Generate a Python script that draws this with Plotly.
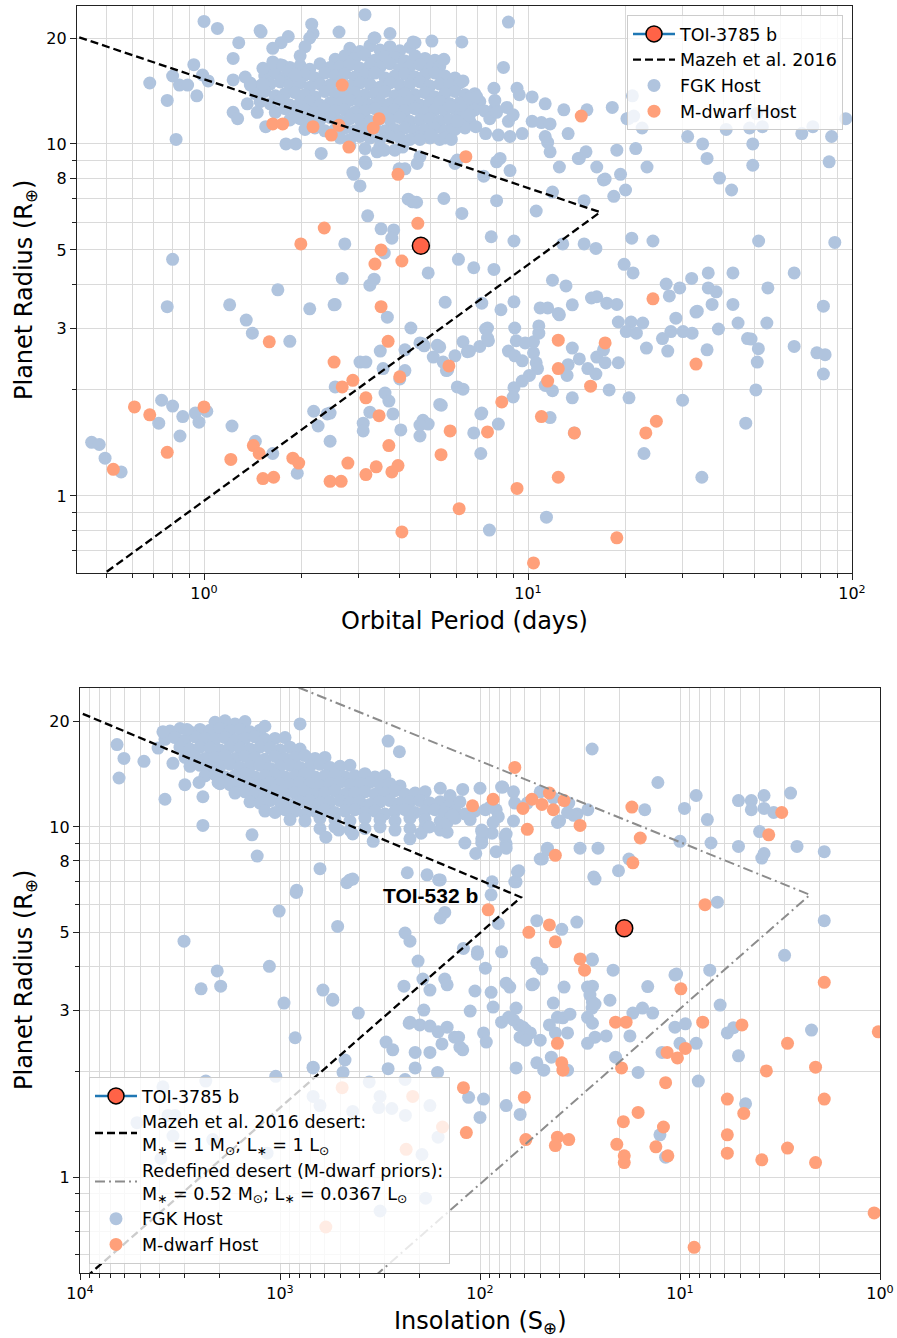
import plotly.graph_objects as go

# ---------------- DATA ----------------
# Top panel: (orbital period [days], radius [R_earth])
toi_period = [4.67]
toi_radius = [5.14]
toi_insol = [19.0]

top_fgk_core = [
    (2.82,18.7),(3.03,18.3),(3.25,19.0),(3.49,18.5),(3.75,18.9),(4.02,18.4),(4.32,18.8),
    (2.54,17.4),(2.72,17.8),(2.92,17.5),(3.14,17.9),(3.37,17.3),(3.62,17.7),(3.88,17.6),(4.17,17.2),(4.48,17.8),(4.81,17.5),(5.16,17.3),
    (1.60,16.4),(1.72,16.8),(1.84,16.5),(1.98,16.7),(2.12,16.3),(2.28,16.9),(2.45,16.5),(2.63,16.6),(2.82,16.8),(3.03,16.4),(3.25,16.7),(3.49,16.5),(3.75,16.9),(4.02,16.3),(4.32,16.6),(4.64,16.8),(4.98,16.4),(5.34,16.6),
    (1.54,15.6),(1.66,15.9),(1.78,15.5),(1.91,15.8),(2.05,15.7),(2.20,15.4),(2.36,15.9),(2.54,15.6),(2.72,15.8),(2.92,15.5),(3.14,15.7),(3.37,15.9),(3.62,15.4),(3.88,15.6),(4.17,15.8),(4.48,15.5),(4.81,15.7),(5.16,15.9),(5.54,15.6),(5.95,15.4),
    (1.39,14.9),(1.49,14.6),(1.60,14.8),(1.72,15.0),(1.84,14.7),(1.98,14.9),(2.12,14.5),(2.28,14.8),(2.45,14.7),(2.63,15.0),(2.82,14.6),(3.03,14.9),(3.25,14.8),(3.49,14.5),(3.75,14.9),(4.02,14.7),(4.32,14.8),(4.64,15.0),(4.98,14.6),(5.34,14.8),(5.74,14.7),(6.16,14.9),
    (1.44,13.9),(1.54,14.1),(1.66,13.7),(1.78,13.9),(1.91,14.0),(2.05,13.8),(2.20,13.6),(2.36,14.1),(2.54,13.9),(2.72,13.7),(2.92,14.0),(3.14,13.8),(3.37,13.9),(3.62,14.1),(3.88,13.7),(4.17,13.9),(4.48,13.8),(4.81,14.0),(5.16,13.6),(5.54,13.9),(5.95,14.1),(6.39,13.8),(6.85,13.9),
    (1.49,13.2),(1.60,13.0),(1.72,13.3),(1.84,12.9),(1.98,13.1),(2.12,13.2),(2.28,12.9),(2.45,13.1),(2.63,13.0),(2.82,13.3),(3.03,13.1),(3.25,12.9),(3.49,13.2),(3.75,13.0),(4.02,13.1),(4.32,13.3),(4.64,12.9),(4.98,13.1),(5.34,13.2),(5.74,13.0),(6.16,13.1),(6.61,12.9),(7.10,13.2),
    (1.66,12.3),(1.78,12.6),(1.91,12.4),(2.05,12.5),(2.20,12.3),(2.36,12.6),(2.54,12.4),(2.72,12.5),(2.92,12.3),(3.14,12.4),(3.37,12.6),(3.62,12.3),(3.88,12.5),(4.17,12.4),(4.48,12.6),(4.81,12.3),(5.16,12.5),(5.54,12.4),(5.95,12.6),(6.39,12.3),(6.85,12.5),(7.36,12.4),(7.90,12.6),
    (1.84,11.7),(1.98,11.8),(2.12,11.6),(2.28,11.7),(2.45,11.9),(2.63,11.6),(2.82,11.8),(3.03,11.7),(3.25,11.6),(3.49,11.8),(3.75,11.7),(4.02,11.9),(4.32,11.6),(4.64,11.7),(4.98,11.8),(5.34,11.6),(5.74,11.7),(6.16,11.9),(6.61,11.6),(7.62,11.8),
    (2.05,11.0),(2.20,11.1),(2.36,10.9),(2.54,11.0),(2.72,11.1),(2.92,10.9),(3.14,11.0),(3.37,11.1),(3.62,10.9),(3.88,11.0),(4.17,11.1),(4.48,10.9),(4.81,11.0),(5.16,11.1),(5.54,10.9),(5.95,11.0),(6.39,11.1),
    (2.63,10.4),(2.82,10.3),(3.03,10.5),(3.25,10.4),(3.49,10.3),(3.75,10.5),(4.02,10.4),(4.32,10.3),(4.64,10.5),(4.98,10.4),(5.34,10.3),
    (2.82,9.9),(3.14,9.7),(3.49,9.8),(3.88,9.6),
]

top_fgk_scatter = [
    (1.0,22.3),(1.10,21.3),(1.50,20.8),(1.82,20.2),(2.15,21.9),(2.17,20.6),(2.61,20.8),(3.14,23.3),(3.75,20.6),(3.35,20.0),
    (4.48,19.4),(5.05,19.6),(1.28,19.4),(1.23,17.5),(0.93,16.8),(0.68,14.9),(0.80,15.6),(0.84,14.7),(0.89,14.7),(0.99,15.7),
    (1.03,15.1),(0.95,13.7),(0.77,13.3),(0.82,10.3),(1.23,12.3),(1.27,11.8),(1.55,11.2),(1.79,10.0),(1.92,10.0),(2.30,9.4),
    (3.16,8.8),(2.90,8.2),(3.03,7.6),(1.49,21.0),(1.73,19.4),(1.63,18.7),(2.12,20.0),(2.05,18.9),(1.98,17.8),(3.37,20.0),
    (4.42,19.5),(6.25,19.5),(8.7,22.2),(8.4,16.5),(5.5,17.4),(6.3,15.1),(7.85,14.4),(9.25,14.4),(9.4,13.8),(10.3,13.6),
    (11.3,13.0),(12.9,12.5),(15.2,12.5),(18.2,12.7),(20.2,11.8),(1.52,16.4),(1.63,17.1),(1.75,16.7),(1.83,16.2),(1.91,15.7),
    (1.34,15.5),(1.23,15.2),(1.39,14.7),(1.52,14.8),(1.36,13.0),(1.46,12.3),(1.95,11.9),(2.88,8.3),(3.14,8.9),(3.42,9.5),
    (3.6,9.6),(4.0,8.5),(4.17,8.5),(4.64,9.2),(6.05,9.0),(6.6,13.5),(6.95,13.6),(6.6,12.1),(6.9,11.2),(7.4,10.7),
    (7.9,13.3),(8.0,12.3),(8.6,12.7),(8.1,10.6),(8.8,10.5),(9.6,10.7),(8.7,11.6),(9.0,12.1),(10.3,11.6),(11.0,11.5),
    (11.7,11.4),(11.3,10.5),(11.5,10.1),(11.7,9.5),(13.3,10.7),(14.3,9.1),(15.1,9.5),(16.3,8.6),(18.8,9.6),(12.5,8.6),
    (8.0,8.9),(8.2,9.1),(8.8,8.4),(5.75,12.8),(5.85,11.0),(6.05,11.6),(5.55,10.4),(5.8,10.3),(4.64,10.3),(5.0,10.6),
    (4.1,9.8),(4.55,8.8),(21.0,13.7),(21.2,12.0),(20.4,11.8),(22.5,11.1),(31.1,10.5),(34.6,10.0),(40.9,11.0),(48.3,11.1),
    (52.9,11.2),(49.4,10.0),(50.8,12.2),(59.9,12.2),(70.0,10.7),(75.7,11.2),(86.5,10.5),(95.6,11.8),(85.0,8.9),(49.4,8.7),
    (35.7,9.1),(39.0,8.0),(42.5,7.4),(21.5,9.7),(23.3,8.6),(14.4,9.1),(17.1,7.9),(19.3,8.2),(20.0,7.4),(18.4,7.1),
    (14.9,6.9),(11.9,7.3),(10.6,6.45),(5.5,7.0),(8.0,6.9),(6.25,6.35),(7.7,5.45),(9.05,5.3),(12.8,5.2),(14.9,5.2),
    (16.2,5.05),(20.9,5.4),(24.3,5.3),(51.5,5.3),(88.5,5.25),(6.1,4.7),(6.8,4.45),(7.85,4.4),(11.9,4.1),(13.1,3.95),
    (19.8,4.55),(21.1,4.3),(26.7,4.0),(29.4,3.9),(27.3,3.7),(32.0,4.15),(36.0,4.3),(36.0,3.9),(38.1,3.8),(42.9,4.3),
    (55.0,3.9),(66.3,4.3),(33.0,3.33),(37.0,3.5),(42.9,3.5),(81.6,3.46),(5.55,3.55),(7.2,3.53),(8.25,3.38),(9.05,3.56),
    (10.9,3.42),(11.5,3.42),(12.5,3.27),(13.7,3.49),(15.7,3.65),(16.3,3.68),(17.5,3.53),(18.8,3.5),(19.0,3.12),(20.8,3.12),
    (22.6,3.1),(28.6,3.2),(44.5,3.1),(54.6,3.1),(7.5,3.0),(9.1,3.0),(10.8,3.04),(12.4,3.3),(20.1,2.93),(21.6,2.9),
    (23.2,2.63),(26.0,2.8),(27.0,2.58),(27.6,2.93),(30.1,2.93),(32.1,2.9),(33.3,3.35),(38.7,2.98),(35.7,2.6),(48.8,2.79),
    (51.4,2.62),(51.0,2.4),(50.5,2.0),(47.0,1.61),(66.3,2.66),(77.9,2.55),(82.6,2.52),(81.6,2.22),(5.34,2.65),(5.34,1.82),
    (6.3,2.74),(6.6,2.58),(5.95,2.5),(5.6,2.27),(7.1,2.66),(7.4,2.98),(7.55,2.76),(7.15,1.71),(6.8,1.51),(7.15,1.32),
    (8.1,1.6),(8.7,2.58),(9.2,2.76),(9.8,2.72),(10.4,2.74),(10.4,2.55),(9.1,2.5),(9.6,2.42),(10.6,2.39),(10.7,2.3),
    (10.1,2.2),(9.6,2.12),(9.05,2.03),(9.0,1.91),(11.3,2.06),(11.9,1.99),(11.7,1.67),(11.4,0.87),(7.6,0.8),(13.7,2.63),
    (14.4,2.45),(13.3,2.36),(13.2,2.2),(15.3,2.3),(16.2,2.22),(16.3,2.48),(17.1,2.6),(17.3,2.39),(19.0,2.39),(17.8,2.0),
    (13.7,1.9),(20.5,1.9),(30.0,1.87),(22.8,1.32),(34.4,1.13),(5.95,8.8),(7.3,8.1),(17.3,7.95),(4.27,6.97),(4.53,6.83),
    (4.4,6.85),(3.2,6.25),(3.52,5.74),(3.85,5.7),(3.8,5.4),(2.72,5.2),(3.6,4.9),(4.92,4.3),(2.67,4.15),(3.25,3.97),
    (3.35,4.13),(2.54,3.5),(3.68,3.22),(4.35,3.0),(7.5,2.81),(10.8,2.9),(47.6,2.8),(3.5,2.58),(4.17,2.6),(4.74,2.7),
    (5.25,2.68),(6.5,2.57),(5.1,2.48),(5.47,2.4),(3.03,2.4),(3.16,2.4),(3.57,2.3),(4.17,2.27),(5.65,2.28),(4.02,2.15),
    (2.54,2.04),(6.05,2.04),(6.3,2.01),(3.62,1.96),(3.72,1.86),(2.45,1.72),(2.45,1.43),(3.25,1.73),(3.1,1.61),(3.1,1.53),
    (3.83,1.71),(4.05,1.54),(4.64,1.48),(4.74,1.64),(4.92,1.6),(4.64,1.59),(5.4,1.81),(7.2,1.72),(13.9,1.51),(0.45,1.42),
    (0.475,1.40),(0.495,1.28),(0.555,1.17),(0.74,1.87),(0.80,1.8),(0.725,1.61),(0.86,1.68),(0.94,1.72),(0.965,1.62),(1.02,1.74),
    (0.843,1.48),(0.77,3.45),(1.2,3.49),(1.35,3.16),(1.41,2.9),(1.84,2.75),(2.12,3.4),(2.52,3.49),(1.22,1.58),(1.44,1.43),
    (1.63,1.32),(1.94,1.16),(2.18,1.74),(2.25,1.58),(2.4,1.71),(4.64,2.72),(4.78,2.67),(0.8,4.7),(1.69,3.85),
]

top_mdwarf = [
    (2.67,14.7),(1.63,11.4),(1.75,11.4),(2.17,11.2),(2.47,10.6),(2.61,11.3),(2.8,9.8),(3.33,11.1),(3.47,11.8),(3.97,8.2),
    (1.99,5.2),(2.35,5.77),(4.57,5.95),(3.52,5.0),(3.37,4.56),(4.08,4.65),(3.52,3.45),(14.6,12.0),(6.43,9.2),(24.3,3.63),
    (3.7,2.75),(2.52,2.4),(4.02,2.18),(2.88,2.13),(2.67,2.04),(3.16,1.90),(3.47,1.69),(5.7,2.34),(8.3,1.85),(11.0,1.68),
    (12.4,2.77),(12.4,2.3),(11.5,2.12),(15.6,2.05),(17.3,2.72),(33.0,2.37),(24.9,1.63),(23.1,1.51),(13.9,1.51),(5.75,1.53),
    (7.5,1.52),(3.72,1.39),(5.39,1.31),(2.78,1.24),(3.4,1.21),(3.16,1.15),(3.8,1.17),(3.97,1.22),(2.45,1.10),(2.65,1.10),
    (12.4,1.13),(9.25,1.05),(6.13,0.92),(4.08,0.79),(18.8,0.76),(10.4,0.645),(0.61,1.79),(0.68,1.70),(0.77,1.33),(1.0,1.79),
    (0.525,1.19),(1.21,1.27),(1.42,1.39),(1.48,1.32),(1.52,1.12),(1.64,1.13),(1.88,1.28),(1.96,1.24),(1.59,2.74),
]

# Bottom panel: (insolation [S_earth], radius [R_earth])
bot_fgk_core = [
    (2113,19.9),(1884,20.1),(1679,19.7),(1496,20.0),
    (3548,18.8),(3162,19.1),(2818,18.7),(2512,19.0),(2239,18.9),(1995,19.1),(1778,18.8),(1585,19.0),(1413,18.7),(1259,18.9),
    (3758,17.8),(3350,18.0),(2985,17.7),(2661,18.1),(2371,17.9),(2113,17.8),(1884,18.0),(1679,17.7),(1496,17.9),(1334,18.1),(1189,17.8),(1059,17.9),(944,18.0),
    (3162,16.9),(2818,16.7),(2512,16.9),(2239,16.8),(1995,16.6),(1778,16.9),(1585,16.8),(1413,16.7),(1259,16.9),(1122,16.8),(1000,16.6),(891,16.9),(794,16.7),
    (2985,15.8),(2661,15.9),(2371,15.7),(2113,15.8),(1884,16.0),(1679,15.7),(1496,15.9),(1334,15.8),(1189,15.6),(1059,15.9),(944,15.7),(841,15.8),(750,16.0),(668,15.7),(596,15.8),
    (2818,14.9),(2512,15.0),(2239,14.8),(1995,14.9),(1778,15.1),(1585,14.8),(1413,14.9),(1259,15.0),(1122,14.7),(1000,14.9),(891,15.0),(794,14.8),(708,14.9),(631,15.1),(562,14.8),(501,14.9),(447,15.0),
    (2371,14.0),(2113,14.1),(1884,13.9),(1679,14.0),(1496,14.2),(1334,13.9),(1189,14.0),(1059,14.1),(944,13.9),(841,14.0),(750,14.2),(668,13.9),(596,14.0),(531,14.1),(473,13.9),(422,14.0),(376,14.2),(335,13.9),(299,14.0),
    (1995,13.3),(1778,13.2),(1585,13.4),(1413,13.3),(1259,13.1),(1122,13.4),(1000,13.3),(891,13.2),(794,13.4),(708,13.3),(631,13.1),(562,13.3),(501,13.4),(447,13.2),(398,13.3),(355,13.4),(316,13.2),(282,13.3),(251,13.1),
    (1679,12.5),(1496,12.6),(1334,12.4),(1189,12.5),(1059,12.7),(944,12.4),(841,12.5),(750,12.6),(668,12.4),(596,12.5),(531,12.7),(473,12.4),(422,12.5),(376,12.6),(335,12.4),(299,12.5),(266,12.7),(237,12.4),(211,12.5),(188,12.6),
    (1413,11.8),(1259,11.7),(1122,11.9),(1000,11.8),(891,11.6),(794,11.8),(708,11.9),(631,11.7),(562,11.8),(501,11.9),(447,11.7),(398,11.8),(355,11.6),(316,11.8),(282,11.9),(251,11.7),(224,11.8),(200,11.9),(178,11.7),(158,11.8),(141,11.6),(126,11.8),
    (1189,11.1),(1059,11.0),(944,11.2),(841,11.1),(750,10.9),(668,11.1),(596,11.2),(531,11.0),(473,11.1),(422,11.2),(376,11.0),(335,11.1),(299,10.9),(266,11.1),(237,11.2),(211,11.0),(188,11.1),(168,11.2),(150,11.0),(133,11.1),(119,10.9),(106,11.1),
    (891,10.5),(750,10.4),(631,10.6),(531,10.5),(447,10.4),(376,10.6),(316,10.5),(266,10.4),(224,10.6),(188,10.5),(158,10.4),(133,10.6),(112,10.5),
    (631,9.9),(531,10.0),(447,9.8),(376,9.9),(316,10.0),(266,9.8),(224,9.9),(188,10.0),(158,9.8),
]

bot_fgk_scatter = [
    (6530,17.2),(6030,15.7),(6380,13.8),(4790,15.4),(4070,16.8),(3760,12.0),(3850,18.7),(3430,15.2),(2990,13.2),(2920,19.0),
    (2540,13.4),(2430,12.2),(2430,10.1),(2040,13.4),(1640,13.6),(1380,9.5),(1300,8.26),(631,7.6),(1190,19.4),(794,19.7),
    (590,9.35),(509,9.8),(433,9.55),(342,9.1),(288,17.6),(253,16.4),(231,7.4),(464,6.93),(433,7.1),(825,6.6),
    (224,9.25),(197,9.6),(184,7.3),(161,7.06),(146,9.66),(140,10.7),(119,9.0),(105,8.4),(98,9.8),(83,8.5),
    (74,8.95),(75,9.4),(68,12.6),(77,13.0),(65,7.45),(67,6.97),(50,8.1),(46,8.7),(41,10.3),(94,11.2),
    (98,9.25),(87,9.6),(179,10.0),(146,10.3),(27.5,16.7),(12.9,13.4),(8.3,12.3),(5.1,11.9),(4.4,11.9),(3.8,12.3),
    (2.8,12.5),(4.4,11.2),(3.8,11.3),(3.4,11.0),(9.5,11.3),(15,11.2),(7.3,10.5),(4.0,9.7),(2.6,8.8),(1.9,8.5),
    (3.9,8.15),(3.8,8.4),(5.1,8.8),(7.0,9.0),(10.0,9.1),(18,8.1),(20.3,7.5),(26.6,7.1),(25.7,8.7),(31.6,8.7),
    (6.5,6.1),(1.9,5.4),(3.0,4.3),(7.1,3.9),(10.4,3.8),(6.3,3.1),(14.5,3.5),(21.6,3.9),(27.5,4.2),(32.8,5.35),
    (39,5.1),(52,5.4),(78,4.4),(94,3.95),(103,4.4),(121,4.5),(81,5.3),(88,6.4),(87,6.97),(66,6.97),
    (64,7.5),(158,7.06),(150,5.7),(158,5.5),(48.8,8.1),(46,8.6),(40,10.4),(32.7,10.9),(28.9,11.2),(68,10.4),
    (74,9.55),(74,8.7),(98,9.0),(137,10.8),(98,9.7),(83,11.2),(67,11.7),(58,11.7),(50,12.6),(43,12.1),
    (36,11.7),(34,10.8),(36.5,11.0),(78,13.0),(100,12.9),(122,12.8),(141,12.3),(158,12.9),(89,11.4),(81,10.7),
    (86,10.3),(447,7.06),(27,7.2),(515,5.2),(237,4.98),(224,4.72),(204,4.14),(103,4.33),(610,3.42),(545,3.22),
    (406,2.94),(240,3.51),(191,3.0),(150,3.68),(146,3.54),(224,2.77),(200,2.72),(178,2.7),(162,2.6),(146,2.68),
    (295,2.43),(273,2.31),(211,2.27),(178,2.27),(155,2.4),(134,2.51),(126,2.35),(163,1.99),(211,2.05),(288,2.04),
    (683,2.06),(484,1.99),(358,1.87),(237,1.9),(112,2.98),(106,3.4),(88,3.37),(86,3.06),(96,2.58),(93,2.43),
    (71,3.49),(74,3.58),(54,3.56),(66,3.04),(78,2.77),(72,2.86),(68,2.81),(64,2.72),(61,2.68),(59,2.63),
    (56,2.58),(63,2.51),(59,2.46),(66,2.05),(52,2.12),(50,2.46),(45,2.72),(43,3.14),(41,2.86),(38.5,2.85),
    (35.5,2.92),(42,2.58),(36.5,2.58),(44,2.2),(48,2.02),(36.5,2.02),(55,3.54),(52,4.09),(49,3.93),(38,3.49),
    (29,3.49),(27.4,3.51),(27.4,4.17),(22.4,3.2),(28.2,3.31),(27.4,3.16),(27.5,3.04),(29,2.86),(27.4,2.75),(29,2.41),
    (26.6,2.51),(23.4,2.53),(17.8,2.53),(17.2,2.94),(15.4,3.04),(13.7,2.94),(21,2.2),(16.2,1.99),(10.6,3.78),(10.6,2.68),
    (9.4,2.74),(10.0,2.41),(8.3,2.41),(8.1,1.88),(12.3,2.27),(96,1.67),(100,1.48),(74,1.6),(63,1.51),(114,1.69),
    (12.6,1.32),(11.8,1.14),(5.8,2.58),(5.4,2.67),(5.1,2.22),(4.7,1.62),(2.2,2.63),(128,2.51),(122,2.31),(26.6,3.12),
    (955,3.14),(545,3.2),(840,2.5),(683,2.05),(1050,1.94),(2350,1.88),(3850,1.81),(473,2.16),(226,2.75),(683,1.7),
    (631,1.6),(433,1.54),(316,1.7),(321,1.58),(276,1.57),(236,1.5),(178,1.6),(162,1.3),(195,1.16),(187,0.87),
    (316,0.8),(1160,1.17),(2170,1.28),(3940,1.13),(3350,1.5),(3630,1.5),(5190,1.43),(3430,1.31),(830,6.5),(1010,5.75),
    (3020,4.72),(2060,3.88),(1980,3.51),(2480,3.45),(1130,4.0),(178,3.42),(193,3.68),
]

bot_mdwarf = [
    (67,14.8),(109,11.5),(86,12.0),(61,11.3),(55,12.0),(49,11.6),(45,12.5),(43,11.2),(58,9.85),(42,8.3),
    (38,11.9),(31.6,10.1),(17.4,11.4),(15.8,9.3),(17.2,7.9),(3.1,11.0),(3.6,9.5),(7.5,6.0),(91,5.8),(57,5.0),
    (45,5.25),(42,4.7),(31.6,4.2),(30,3.9),(9.9,3.45),(1.9,3.6),(21,2.77),(18.6,2.77),(7.7,2.77),(41,2.41),
    (39,2.12),(38.5,2.02),(19.6,2.05),(11.6,2.27),(10.3,2.19),(9.4,2.33),(11.8,1.86),(121,1.8),(60,1.69),(117,1.34),
    (59,1.28),(41,1.30),(42,1.23),(36,1.28),(19.2,1.44),(16.2,1.53),(20.7,1.24),(19,1.15),(19,1.10),(12.1,1.39),
    (13.2,1.22),(11.5,1.15),(489,1.8),(217,1.7),(154,1.39),(234,1.2),(4.9,2.72),(2.9,2.41),(3.7,2.01),(2.1,2.06),
    (5.8,1.67),(4.8,1.52),(1.9,1.67),(5.8,1.32),(5.8,1.17),(2.9,1.21),(3.9,1.12),(2.1,1.10),(1.07,0.79),(8.5,0.63),
    (1.02,2.6),(590,0.72),
]

# Desert boundaries (vertices)
mazeh_top_period = [0.38, 16.7, 0.49]
mazeh_top_radius = [20.6, 6.4, 0.60]
mazeh_bot_insol = [11000, 62.4, 9500]
mazeh_bot_radius = [21.7, 6.3, 0.513]
redef_bot_insol = [1000, 2.24, 350]
redef_bot_radius = [26.3, 6.4, 0.51]

# ---------------- FIGURE ----------------
FGK = "#B0C4DE"
MDW = "#FFA07A"
TOI = "#FF6347"
FONT = "DejaVu Sans"


def split(pts):
    return [p[0] for p in pts], [p[1] for p in pts]


fig = go.Figure()

# --- top panel ---
x, y = split(top_fgk_core + top_fgk_scatter)
fig.add_trace(go.Scatter(x=x, y=y, mode="markers", name="FGK Host",
                         marker=dict(size=13, color=FGK, line=dict(width=0)),
                         xaxis="x", yaxis="y", legend="legend", legendrank=4, hoverinfo="skip"))
x, y = split(top_mdwarf)
fig.add_trace(go.Scatter(x=x, y=y, mode="markers", name="M-dwarf Host",
                         marker=dict(size=13, color=MDW, line=dict(width=0)),
                         xaxis="x", yaxis="y", legend="legend", legendrank=5, hoverinfo="skip"))
fig.add_trace(go.Scatter(x=mazeh_top_period, y=mazeh_top_radius, mode="lines", name="Mazeh et al. 2016",
                         line=dict(color="black", width=2.3, dash="8px,4px"),
                         xaxis="x", yaxis="y", legend="legend", legendrank=2, hoverinfo="skip"))
fig.add_trace(go.Scatter(x=toi_period, y=toi_radius, mode="lines+markers", name="TOI-3785 b",
                         marker=dict(size=17, color=TOI, line=dict(color="black", width=1.5)),
                         line=dict(color="#1f77b4", width=2.5),
                         xaxis="x", yaxis="y", legend="legend", legendrank=1, hoverinfo="skip"))

# --- bottom panel ---
x, y = split(bot_fgk_core + bot_fgk_scatter)
fig.add_trace(go.Scatter(x=x, y=y, mode="markers", name="FGK Host",
                         marker=dict(size=13, color=FGK, line=dict(width=0)),
                         xaxis="x2", yaxis="y2", legend="legend2", legendrank=4, hoverinfo="skip"))
x, y = split(bot_mdwarf)
fig.add_trace(go.Scatter(x=x, y=y, mode="markers", name="M-dwarf Host",
                         marker=dict(size=13, color=MDW, line=dict(width=0)),
                         xaxis="x2", yaxis="y2", legend="legend2", legendrank=5, hoverinfo="skip"))
fig.add_trace(go.Scatter(x=mazeh_bot_insol, y=mazeh_bot_radius, mode="lines",
                         name="Mazeh et al. 2016 desert:<br>M<sub>∗</sub> = 1 M<sub>⊙</sub>; L<sub>∗</sub> = 1 L<sub>⊙</sub>",
                         line=dict(color="black", width=2.3, dash="8px,4px"),
                         xaxis="x2", yaxis="y2", legend="legend2", legendrank=2, hoverinfo="skip"))
fig.add_trace(go.Scatter(x=redef_bot_insol, y=redef_bot_radius, mode="lines",
                         name="Redefined desert (M-dwarf priors):<br>M<sub>∗</sub> = 0.52 M<sub>⊙</sub>; L<sub>∗</sub> = 0.0367 L<sub>⊙</sub>",
                         line=dict(color="#8c8c8c", width=2, dash="10px,4px,2px,4px"),
                         xaxis="x2", yaxis="y2", legend="legend2", legendrank=3, hoverinfo="skip"))
fig.add_trace(go.Scatter(x=toi_insol, y=toi_radius, mode="lines+markers", name="TOI-3785 b",
                         marker=dict(size=17, color=TOI, line=dict(color="black", width=1.5)),
                         line=dict(color="#1f77b4", width=2.5),
                         xaxis="x2", yaxis="y2", legend="legend2", legendrank=1, hoverinfo="skip"))

W, H = 897, 1338
GRID = "#dadada"


def axis_style(**kw):
    d = dict(type="log", showline=True, linecolor="#222", linewidth=1.3, mirror=True,
             ticks="outside", ticklen=6, tickwidth=1.2, tickcolor="#222",
             showgrid=True, gridcolor=GRID, gridwidth=1, zeroline=False, automargin=False,
             tickfont=dict(family=FONT, size=16, color="black"))
    d.update(kw)
    return d


minor_style = dict(ticks="outside", ticklen=3.5, tickwidth=1, tickcolor="#222",
                   showgrid=True, gridcolor=GRID, gridwidth=1)

r_ticks = [1, 3, 5, 8, 10, 20]
r_minor = [0.5, 0.6, 0.7, 0.8, 0.9, 2, 4, 6, 7, 9]
p_ticks = [1, 10, 100]
p_minor = [0.5, 0.6, 0.7, 0.8, 0.9, 2, 3, 4, 5, 6, 7, 8, 9, 20, 30, 40, 50, 60, 70, 80, 90]
s_ticks = [1, 10, 100, 1000, 10000]
s_minor = [m * d for d in (1, 10, 100, 1000) for m in (2, 3, 4, 5, 6, 7, 8, 9)]

fig.update_layout(
    width=W, height=H, autosize=False, margin=dict(l=0, r=0, t=0, b=0, pad=0),
    paper_bgcolor="white", plot_bgcolor="white",
    font=dict(family=FONT, color="black"),
    showlegend=True,
    xaxis=axis_style(domain=[77 / W, 852 / W], range=[-0.392, 2.0], anchor="y",
                     tickmode="array", tickvals=p_ticks,
                     ticktext=["10<sup>0</sup>", "10<sup>1</sup>", "10<sup>2</sup>"],
                     minor=dict(tickmode="array", tickvals=p_minor, **minor_style)),
    yaxis=axis_style(domain=[1 - 573 / H, 1 - 6 / H], range=[-0.219, 1.392], anchor="x",
                     tickmode="array", tickvals=r_ticks, ticktext=[str(v) for v in r_ticks],
                     minor=dict(tickmode="array", tickvals=r_minor, **minor_style)),
    xaxis2=axis_style(domain=[80 / W, 880 / W], range=[4, 0], anchor="y2",
                      tickmode="array", tickvals=s_ticks,
                      ticktext=["10<sup>0</sup>", "10<sup>1</sup>", "10<sup>2</sup>", "10<sup>3</sup>", "10<sup>4</sup>"],
                      minor=dict(tickmode="array", tickvals=s_minor, **minor_style)),
    yaxis2=axis_style(domain=[1 - 1273 / H, 1 - 688 / H], range=[-0.274, 1.397], anchor="x2",
                      tickmode="array", tickvals=r_ticks, ticktext=[str(v) for v in r_ticks],
                      minor=dict(tickmode="array", tickvals=r_minor, **minor_style)),
    legend=dict(x=843 / W, y=1 - 15 / H, xanchor="right", yanchor="top", itemwidth=42,
                bgcolor="rgba(255,255,255,0.8)", bordercolor="#cccccc", borderwidth=1,
                font=dict(family=FONT, size=17.5, color="black")),
    legend2=dict(x=89 / W, y=1 - 1264 / H, xanchor="left", yanchor="bottom", itemwidth=42,
                 bgcolor="rgba(255,255,255,0.8)", bordercolor="#cccccc", borderwidth=1,
                 font=dict(family=FONT, size=17.5, color="black")),
)

annots = [
    dict(text="Planet Radius (R<sub>⊕</sub>)", x=25 / W, y=1 - 290 / H, textangle=-90),
    dict(text="Planet Radius (R<sub>⊕</sub>)", x=25 / W, y=1 - 980 / H, textangle=-90),
    dict(text="Orbital Period (days)", x=464 / W, y=1 - 621 / H),
    dict(text="Insolation (S<sub>⊕</sub>)", x=480 / W, y=1 - 1322 / H),
]
for a in annots:
    fig.add_annotation(xref="paper", yref="paper", showarrow=False,
                       xanchor="center", yanchor="middle",
                       font=dict(family=FONT, size=24, color="black"), **a)

fig.add_annotation(xref="paper", yref="paper", x=430 / W, y=1 - 895 / H, showarrow=False,
                   text="<b>TOI-532 b</b>", xanchor="center", yanchor="middle",
                   font=dict(family="Liberation Sans, Arial", size=21, color="black"))

fig.write_html(
    "out.html",
    config={"responsive": False},
    post_script="document.body.style.margin='0';document.body.style.overflow='hidden';",
)
